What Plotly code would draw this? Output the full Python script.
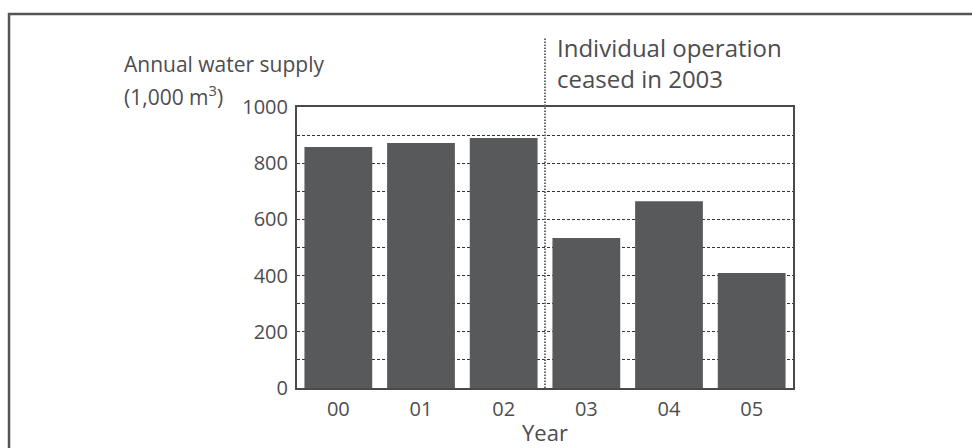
import plotly.graph_objects as go

# Annual water supply by year (thousand cubic metres)
years = ["00", "01", "02", "03", "04", "05"]
supply = [858, 872, 890, 534, 665, 409]

y_ticks = [0, 200, 400, 600, 800, 1000]
y_title_lines = ["Annual water supply", "(1,000 m<sup>3</sup>)"]
note_lines = ["Individual operation", "ceased in 2003"]
x_title = "Year"

FONT = "Open Sans"
TEXT = "#4d4d4f"
BAR = "#58595b"
FRAME = "#555555"
GRID = "#333333"

fig = go.Figure(
    go.Bar(
        x=years,
        y=supply,
        marker=dict(color=BAR, line=dict(width=0)),
        width=0.82,
        hoverinfo="x+y",
    )
)

fig.update_layout(
    width=972,
    height=448,
    margin=dict(l=297, r=179, t=107, b=60),
    paper_bgcolor="white",
    plot_bgcolor="white",
    showlegend=False,
    font=dict(family=FONT, color=TEXT, size=20),
)

fig.update_xaxes(
    type="category",
    showline=True,
    mirror=True,
    linecolor="#4a4a4a",
    linewidth=2,
    showgrid=False,
    ticks="",
    ticklabelstandoff=2,
    tickfont=dict(size=20, color=TEXT),
)

fig.update_yaxes(
    range=[0, 1000],
    tickvals=y_ticks,
    showline=True,
    mirror=True,
    linecolor="#4a4a4a",
    linewidth=2,
    ticks="",
    ticklabelstandoff=3,
    showgrid=True,
    gridcolor=GRID,
    gridwidth=1,
    griddash="3px,2px",
    zeroline=False,
    minor=dict(dtick=100, showgrid=True, gridcolor=GRID, gridwidth=1, griddash="3px,2px"),
    tickfont=dict(size=20, color=TEXT),
)

# outer border of the panel
fig.add_shape(
    type="rect", xref="paper", yref="paper",
    x0=-0.5806, x1=1.6, y0=-0.6, y1=1.331,
    line=dict(color=FRAME, width=2.5),
    fillcolor="rgba(0,0,0,0)",
    layer="above",
)

# divider between 2002 and 2003
fig.add_shape(
    type="line", xref="x", yref="paper",
    x0=2.5, x1=2.5, y0=0, y1=1.249,
    line=dict(color="#6a6a6a", width=2, dash="1.5px,1.5px"),
    layer="above",
)

# y-axis title (two lines)
for text, yp in zip(y_title_lines, [1.152, 1.040]):
    fig.add_annotation(
        text=text, xref="paper", yref="paper",
        x=-0.353, y=yp, xanchor="left", yanchor="middle",
        showarrow=False, font=dict(size=21, color=TEXT),
    )

# note next to the divider
for text, yp in zip(note_lines, [1.2135, 1.103]):
    fig.add_annotation(
        text=text, xref="paper", yref="paper",
        x=0.520, y=yp, xanchor="left", yanchor="middle",
        showarrow=False, font=dict(size=24, color=TEXT),
    )

fig.add_annotation(
    text=x_title, xref="paper", yref="paper",
    x=0.5, y=-0.158, xanchor="center", yanchor="middle",
    showarrow=False, font=dict(size=22, color=TEXT),
)

fig.write_html("out.html")
